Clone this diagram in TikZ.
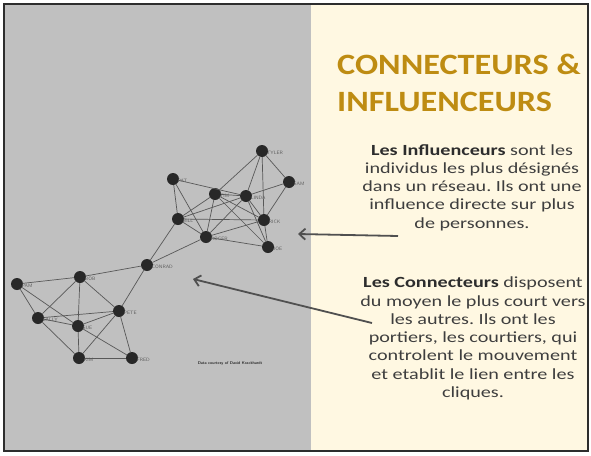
\documentclass[tikz,border=0pt]{standalone}
\usepackage{fontspec}
\setmainfont{Carlito}
\usetikzlibrary{arrows.meta}
\definecolor{panelgray}{RGB}{192,192,192}
\definecolor{panelcream}{RGB}{255,248,226}
\definecolor{framedark}{RGB}{45,45,45}
\definecolor{nodeblack}{RGB}{40,40,40}
\definecolor{linkgray}{RGB}{88,88,88}
\definecolor{labelgray}{RGB}{95,95,95}
\definecolor{titlegold}{RGB}{190,140,18}
\definecolor{bodygray}{RGB}{62,62,62}
\definecolor{arrowgray}{RGB}{80,80,80}
\frenchspacing

\begin{document}
\begin{tikzpicture}[x=1pt,y=-1pt,
  pers/.style={circle, fill=nodeblack, inner sep=0pt, minimum size=12pt},
  persname/.style={font=\sffamily\fontsize{4.8}{5}\selectfont, text=labelgray, inner sep=0.5pt},
  link/.style={draw=linkgray, line width=0.7pt},
  bodytext/.style={font=\fontsize{15.5}{18.3}\selectfont, text=bodygray, align=center, inner sep=0pt},
  pointer/.style={draw=arrowgray, line width=1.8pt, -{Straight Barb[length=6pt,width=11pt]}}]
\useasboundingbox (0,0) rectangle (591,455);
\fill[white] (0,0) rectangle (591,455);
\fill[panelgray] (4,4) rectangle (311,451);

% network
\foreach \n/\x/\y in {TYLER/262/151, SAM/289/182, PAT/173/179, TIM/215/194,
  LINDA/246/196, BILL/178/219, RICK/264/220, ROGER/206/237, JOE/268/247,
  CONRAD/147/265, BOB/80/277, PAM/17/284, PETE/119/311, SALLY/38/318,
  SUE/78/326, KIM/79/358, FRED/132/358}
  \node[pers, label={[persname, anchor=west, xshift=-2pt, yshift=-1.5pt]east:\n}] (\n) at (\x,\y) {};
\foreach \a/\b in {TYLER/TIM, TYLER/LINDA, TYLER/SAM, TYLER/RICK, SAM/LINDA, SAM/RICK,
  PAT/LINDA, PAT/BILL, PAT/ROGER, TIM/BILL, TIM/ROGER, TIM/LINDA, TIM/RICK, TIM/JOE,
  LINDA/BILL, LINDA/ROGER, LINDA/RICK, LINDA/JOE, BILL/RICK, BILL/ROGER, BILL/CONRAD,
  ROGER/RICK, ROGER/JOE, ROGER/CONRAD, RICK/JOE,
  CONRAD/BOB, CONRAD/PETE, BOB/PAM, BOB/SALLY, BOB/SUE, BOB/PETE,
  PAM/SALLY, PAM/SUE, SALLY/PETE, SALLY/KIM, SALLY/SUE,
  SUE/KIM, SUE/PETE, SUE/FRED, PETE/KIM, PETE/FRED, KIM/FRED}
  \draw[link] (\a) -- (\b);
\node[font=\sffamily\bfseries\fontsize{4}{5}\selectfont, text=nodeblack] (credit) at (230,363) {Data courtesy of David Krackhardt};

% text panel
\fill[panelcream] (311,4) rectangle (588,451);
\draw[framedark, line width=2.5pt] (4,4) rectangle (588,451);
\node[anchor=north west, font=\bfseries\fontsize{29.5}{37}\selectfont, text=titlegold, inner sep=0pt] (title) at (337,48)
  {\scalebox{1.16}[1]{\begin{tabular}{@{}l@{}}CONNECTEURS \&\\INFLUENCEURS\end{tabular}}};
\node[bodytext] (infl) at (472,188)
  {\scalebox{1.3}[1]{\begin{tabular}{@{}c@{}}\textbf{\color{framedark}Les Influenceurs} sont les\\individus les plus désignés\\dans un réseau. Ils ont une\\influence directe sur plus\\de personnes.\end{tabular}}};
\node[bodytext] (conn) at (473,339)
  {\scalebox{1.3}[1]{\begin{tabular}{@{}c@{}}\textbf{\color{framedark}Les Connecteurs} disposent\\du moyen le plus court vers\\les autres. Ils ont les\\portiers, les courtiers, qui\\controlent le mouvement\\et etablit le lien entre les\\cliques.\end{tabular}}};

% pointers
\coordinate (infl-tail) at (398,236);
\coordinate (infl-tip) at (298,234);
\coordinate (conn-tail) at (372,323);
\coordinate (conn-tip) at (193,279);
\draw[pointer] (infl-tail) -- (infl-tip);
\draw[pointer] (conn-tail) -- (conn-tip);
\end{tikzpicture}
\end{document}
